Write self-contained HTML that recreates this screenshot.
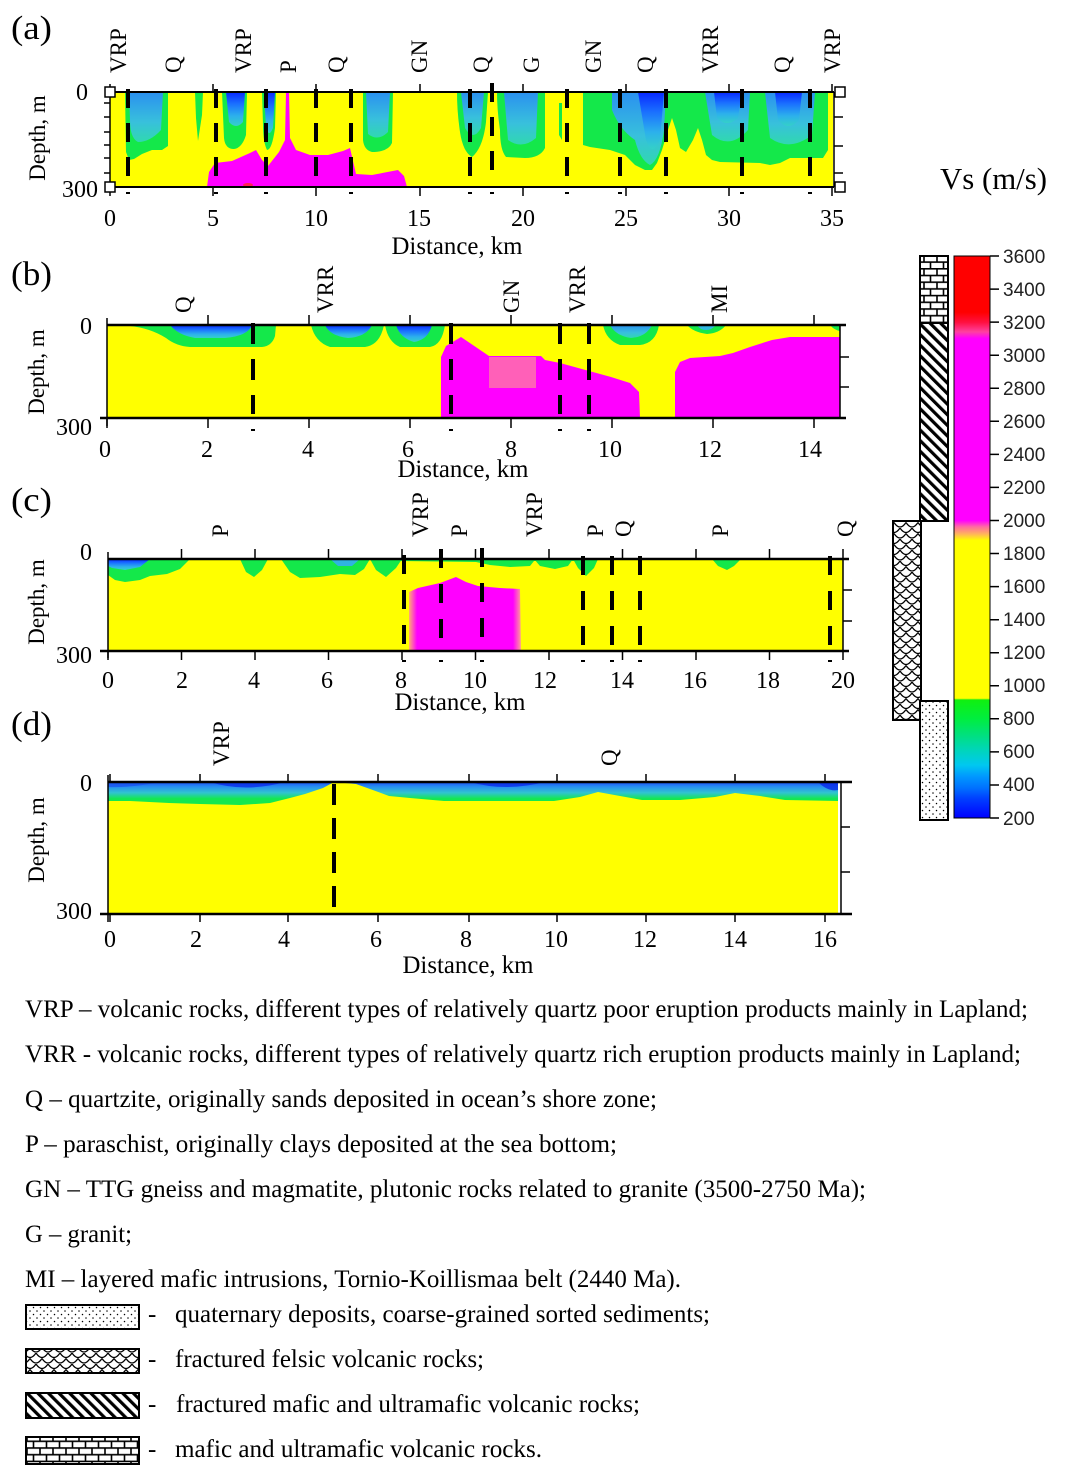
<!DOCTYPE html>
<html><head><meta charset="utf-8"><style>html,body{margin:0;padding:0;background:#fff}svg{display:block}</style></head>
<body>
<svg width="1070" height="1482" viewBox="0 0 1070 1482" xmlns="http://www.w3.org/2000/svg" font-family="'Liberation Serif', serif" fill="#000">
<defs>
<linearGradient id="core" x1="0" y1="0" x2="0" y2="1"><stop offset="0" stop-color="#0828ff"/><stop offset="0.35" stop-color="#1a70ff"/><stop offset="0.7" stop-color="#2cb0ec"/><stop offset="1" stop-color="#34d0c8"/></linearGradient>
<linearGradient id="cyan" x1="0" y1="0" x2="0" y2="1"><stop offset="0" stop-color="#2a90f0"/><stop offset="0.6" stop-color="#38c0dc"/><stop offset="1" stop-color="#30d8b0"/></linearGradient>
<linearGradient id="magH" gradientUnits="userSpaceOnUse" x1="405" y1="0" x2="525" y2="0"><stop offset="0" stop-color="#ffff00"/><stop offset="0.04" stop-color="#ff9a80"/><stop offset="0.1" stop-color="#ff00ff"/><stop offset="0.9" stop-color="#ff00ff"/><stop offset="0.96" stop-color="#ff90a0"/><stop offset="1" stop-color="#ffff00"/></linearGradient>
<linearGradient id="layer" gradientUnits="userSpaceOnUse" x1="0" y1="782" x2="0" y2="806"><stop offset="0" stop-color="#1c50f8"/><stop offset="0.2" stop-color="#2890f0"/><stop offset="0.45" stop-color="#30c4d0"/><stop offset="0.7" stop-color="#14e850"/><stop offset="1" stop-color="#14e850"/></linearGradient>
<linearGradient id="cbar" x1="0" y1="0" x2="0" y2="1">
<stop offset="0" stop-color="#ff0000"/><stop offset="0.1" stop-color="#ff0000"/><stop offset="0.118" stop-color="#ff1040"/><stop offset="0.135" stop-color="#ff40a0"/><stop offset="0.147" stop-color="#ff00ff"/><stop offset="0.4706" stop-color="#ff00ff"/><stop offset="0.482" stop-color="#ff6ca0"/><stop offset="0.494" stop-color="#ffb060"/><stop offset="0.506" stop-color="#ffff00"/><stop offset="0.787" stop-color="#ffff00"/><stop offset="0.79" stop-color="#10f010"/><stop offset="0.824" stop-color="#00ee40"/><stop offset="0.853" stop-color="#00e080"/><stop offset="0.882" stop-color="#00d4c0"/><stop offset="0.906" stop-color="#00c8f0"/><stop offset="0.926" stop-color="#0098ff"/><stop offset="0.947" stop-color="#0070ff"/><stop offset="0.965" stop-color="#0040ff"/><stop offset="1" stop-color="#0000ff"/>
</linearGradient>
<pattern id="brick" patternUnits="userSpaceOnUse" width="26" height="13.4" x="0" y="0">
<rect width="26" height="13.4" fill="#fff"/>
<path d="M0,0.8H26M0,7.5H26M1,0.8V7.5M14,0.8V7.5M7.5,7.5V13.4M20.5,7.5V13.4" stroke="#000" stroke-width="1.6" fill="none"/>
</pattern>
<pattern id="hatch" patternUnits="userSpaceOnUse" width="7.5" height="20" patternTransform="rotate(-45)">
<rect width="7.5" height="20" fill="#fff"/><rect width="3.2" height="20" fill="#000"/>
</pattern>
<pattern id="scale" patternUnits="userSpaceOnUse" width="12" height="11">
<rect width="12" height="11" fill="#fff"/>
<path d="M0,0 Q6,9 12,0 M-6,5.5 Q0,14.5 6,5.5 M6,5.5 Q12,14.5 18,5.5" stroke="#000" stroke-width="1.3" fill="none"/>
</pattern>
<pattern id="dots" patternUnits="userSpaceOnUse" width="7" height="7">
<rect width="7" height="7" fill="#fff"/><circle cx="2" cy="2" r="0.75" fill="#000"/><circle cx="5.5" cy="5.5" r="0.75" fill="#000"/>
</pattern>
</defs>
<rect width="1070" height="1482" fill="#fff"/>

<!-- ================= PANEL A ================= -->
<g>
<rect x="110" y="92" width="723" height="95" fill="#ffff00"/>
<g fill="#14e84a">
<path d="M125,92 L168,92 L168,146 L162,150 L152,150 L142,154 L134,159 L129,160 L126,152 Z"/>
<path d="M195,92 L203,92 L202,115 L198,141 L196,118 Z"/>
<path d="M222,92 L247,92 L246,135 Q242,148 234,149 Q225,149 224,138 Z"/>
<path d="M262,92 L276,92 L275,128 Q272,150 267,150 Q263,142 263,125 Z"/>
<path d="M363,92 L393,92 L392,143 Q388,152 372,152 Q364,150 363,140 Z"/>
<path d="M457,92 L488,92 L486,122 Q483,148 472,157 Q463,152 460,132 Q457,112 457,92 Z"/>
<path d="M497,92 L545,92 L545,148 Q540,158 525,158 L506,157 Q500,150 500,130 Q497,110 497,92 Z"/>
<path d="M559,103 L562,103 L562,140 L559,135 Z"/>
<path d="M583,92 L828,92 L828,150 L823,158 L790,158 L780,163 L770,165 L760,163 L720,162 L712,160 L706,155 L702,140 L698,128 L693,140 L686,152 L680,148 L676,130 L672,118 L668,130 L662,150 L657,163 L652,170 L645,170 L635,165 L625,155 L610,150 L590,147 L583,145 Z"/>
</g>
<path d="M129,92 L163,92 L161,130 Q150,142 138,142 Q130,138 130,120 Z" fill="url(#cyan)"/>
<path d="M226,92 L245,92 L243,122 Q236,130 229,122 Z" fill="url(#core)"/>
<path d="M264,92 L275,92 L273,128 Q269,138 266,128 Z" fill="url(#core)"/>
<path d="M366,92 L390,92 L388,132 Q378,142 368,134 Z" fill="url(#cyan)"/>
<path d="M461,92 L484,92 L481,128 Q473,142 465,128 Z" fill="url(#cyan)"/>
<path d="M504,92 L538,92 L536,138 Q522,150 508,140 Z" fill="url(#cyan)"/>
<path d="M612,92 L666,92 L664,130 Q660,160 650,165 Q640,160 635,140 Q620,130 612,110 Z" fill="url(#cyan)"/>
<path d="M638,92 L664,92 L660,140 Q652,158 646,140 Z" fill="url(#core)"/>
<path d="M705,92 L750,92 L748,130 Q730,150 712,135 Z" fill="url(#cyan)"/>
<path d="M714,92 L742,92 L738,118 Q727,128 717,118 Z" fill="url(#core)"/>
<path d="M765,92 L815,92 L812,135 Q790,152 770,138 Z" fill="url(#cyan)"/>
<path d="M775,92 L802,92 L799,120 Q788,132 778,120 Z" fill="url(#core)"/>
<path d="M207,187 L209,172 L215,163 L232,161 L250,153 L256,150 L262,160 L268,166 L279,152 L285,140 L286,92 L289,92 L290,138 L296,150 L310,155 L328,155 L343,151 L350,148 L356,174 L372,175 L398,170 L404,176 L407,187 Z" fill="#ff00ff"/>
<ellipse cx="248" cy="185" rx="5" ry="2" fill="#ff2050"/>
<g stroke="#000" stroke-width="4" stroke-dasharray="19 15">
<line x1="128" y1="89" x2="128" y2="178"/><line x1="216" y1="89" x2="216" y2="178"/><line x1="266" y1="89" x2="266" y2="178"/><line x1="316" y1="89" x2="316" y2="178"/><line x1="351" y1="89" x2="351" y2="178"/><line x1="470" y1="89" x2="470" y2="178"/><line x1="492" y1="83" x2="492" y2="172"/><line x1="567" y1="89" x2="567" y2="178"/><line x1="620" y1="89" x2="620" y2="178"/><line x1="666" y1="89" x2="666" y2="178"/><line x1="742" y1="89" x2="742" y2="178"/><line x1="810" y1="89" x2="810" y2="178"/>
</g>
<g stroke="#000" fill="none">
<path d="M110,92H834M110,187H834" stroke-width="2"/>
<path d="M110,92V187M834,92V187" stroke-width="1.5"/>
<path d="M110,84V92M213,84V92M316,84V92M420,84V92M523,84V92M626,84V92M729,84V92M832,84V92" stroke-width="1.5"/>
<path d="M110,187V196M213,187V196M316,187V196M420,187V196M523,187V196M626,187V196M729,187V196M832,187V196" stroke-width="1.5"/>
<path d="M104,103H110M104,117H110M104,132H110M104,145H110M104,158H110M104,173H110" stroke-width="1.5"/>
<path d="M834,117H843M834,146H843M834,173H843" stroke-width="1.5"/>
<path d="M126,193H130M214,193H218M264,193H268M349,193H353M468,193H472M490,193H494M565,193H569M618,193H622M664,193H668M740,193H744M808,193H812" stroke-width="2"/>
</g>
<g fill="#fff" stroke="#000" stroke-width="1.5">
<rect x="105" y="87" width="10" height="10"/><rect x="105" y="182" width="10" height="10"/><rect x="835" y="87" width="10" height="10"/><rect x="835" y="182" width="10" height="10"/>
</g>
<text x="11" y="39" font-size="34" textLength="41" lengthAdjust="spacingAndGlyphs">(a)</text>
<text x="88" y="100" font-size="24" text-anchor="end">0</text>
<text x="98" y="197" font-size="24" text-anchor="end">300</text>
<text transform="translate(45,138) rotate(-90)" font-size="23" text-anchor="middle">Depth, m</text>
<g font-size="24" text-anchor="middle">
<text x="110" y="226">0</text><text x="213" y="226">5</text><text x="316" y="226">10</text><text x="419" y="226">15</text><text x="523" y="226">20</text><text x="626" y="226">25</text><text x="729" y="226">30</text><text x="832" y="226">35</text>
</g>
<text x="457" y="254" font-size="25" text-anchor="middle" textLength="131" lengthAdjust="spacingAndGlyphs">Distance, km</text>
<g font-size="23">
<text transform="translate(126,73) rotate(-90)">VRP</text>
<text transform="translate(181,73) rotate(-90)">Q</text>
<text transform="translate(251,73) rotate(-90)">VRP</text>
<text transform="translate(296,73) rotate(-90)">P</text>
<text transform="translate(344,73) rotate(-90)">Q</text>
<text transform="translate(427,73) rotate(-90)">GN</text>
<text transform="translate(489,73) rotate(-90)">Q</text>
<text transform="translate(539,73) rotate(-90)">G</text>
<text transform="translate(601,73) rotate(-90)">GN</text>
<text transform="translate(653,73) rotate(-90)">Q</text>
<text transform="translate(718,73) rotate(-90)">VRR</text>
<text transform="translate(790,73) rotate(-90)">Q</text>
<text transform="translate(840,73) rotate(-90)">VRP</text>
</g>
</g>

<!-- ================= PANEL B ================= -->
<g>
<rect x="107" y="325" width="733" height="93" fill="#ffff00"/>
<g fill="#14e84a">
<path d="M130,325 L276,325 L275,336 Q272,346 262,347 L190,347 Q176,346 166,338 Q150,328 130,326 Z"/>
<path d="M311,325 L384,325 Q380,345 365,347 L330,347 Q315,342 311,325 Z"/>
<path d="M385,325 L445,325 Q442,345 430,347 L400,347 Q388,342 385,325 Z"/>
<path d="M603,325 L659,325 Q656,343 640,345 L620,345 Q606,340 603,325 Z"/>
<path d="M687,325 L726,325 Q720,333 707,334 Q693,332 687,325 Z"/>
<path d="M830,325 L840,325 L840,331 Q834,330 830,325 Z"/>
</g>
<path d="M170,325 L252,325 Q248,336 225,338 L195,338 Q178,335 170,325 Z" fill="url(#core)"/>
<path d="M325,325 L372,325 Q366,337 348,338 Q330,336 325,325 Z" fill="url(#core)"/>
<path d="M396,325 L432,325 Q428,340 414,342 Q400,338 396,325 Z" fill="url(#core)"/>
<path d="M610,325 L652,325 Q646,337 631,338 Q616,336 610,325 Z" fill="url(#cyan)"/>
<path d="M697,325 L716,325 Q712,330 706,330 Q700,330 697,325 Z" fill="#30b8e0"/>
<path d="M441,418 L441,357 L446,346 L461,337 L489,356 L541,356 L545,360 L560,363 L611,377 L630,383 L639,392 L640,418 Z" fill="#ff00ff"/>
<rect x="489" y="357" width="47" height="31" fill="#ff60b8"/>
<path d="M675,418 L675,372 L680,362 L690,358 L720,356 L733,353 L750,347 L772,340 L790,337 L840,337 L840,418 Z" fill="#ff00ff"/>
<g stroke="#000" stroke-width="4" stroke-dasharray="21 15">
<line x1="253" y1="323" x2="253" y2="414"/><line x1="451" y1="323" x2="451" y2="414"/><line x1="560" y1="323" x2="560" y2="414"/><line x1="589" y1="323" x2="589" y2="414"/>
</g>
<g stroke="#000" fill="none">
<path d="M107,325H846M100,418H846" stroke-width="2.5"/>
<path d="M107,318V426M840,325V418" stroke-width="1.5"/>
<path d="M208,315V325M309,315V325M410,315V325M511,315V325M612,315V325M713,315V325M814,315V325" stroke-width="1.5"/>
<path d="M107,418V428M208,418V428M309,418V428M410,418V428M511,418V428M612,418V428M713,418V428M814,418V428" stroke-width="1.5"/>
<path d="M840,357H849M840,387H849" stroke-width="1.5"/>
<path d="M251,430H255M449,430H453M558,430H562M587,430H591" stroke-width="2"/>
</g>
<text x="11" y="285" font-size="34" textLength="41" lengthAdjust="spacingAndGlyphs">(b)</text>
<text x="92" y="334" font-size="24" text-anchor="end">0</text>
<text x="92" y="435" font-size="24" text-anchor="end">300</text>
<text transform="translate(44,372) rotate(-90)" font-size="23" text-anchor="middle">Depth, m</text>
<g font-size="24" text-anchor="middle">
<text x="105" y="457">0</text><text x="207" y="457">2</text><text x="308" y="457">4</text><text x="408" y="457">6</text><text x="511" y="457">8</text><text x="610" y="457">10</text><text x="710" y="457">12</text><text x="810" y="457">14</text>
</g>
<text x="463" y="477" font-size="25" text-anchor="middle" textLength="131" lengthAdjust="spacingAndGlyphs">Distance, km</text>
<g font-size="23">
<text transform="translate(191,313) rotate(-90)">Q</text>
<text transform="translate(333,313) rotate(-90)">VRR</text>
<text transform="translate(519,313) rotate(-90)">GN</text>
<text transform="translate(585,313) rotate(-90)">VRR</text>
<text transform="translate(727,313) rotate(-90)">MI</text>
</g>
</g>

<!-- ================= PANEL C ================= -->
<g>
<rect x="108" y="559" width="735" height="92" fill="#ffff00"/>
<g fill="#14e84a">
<path d="M108,559 L190,559 L180,569 L167,574 L150,576 L140,580 L125,582 L115,580 L108,575 Z"/>
<path d="M240,559 L268,559 L262,570 L254,577 L246,572 Z"/>
<path d="M281,559 L370,559 L364,569 L355,575 L340,574 L320,577 L300,578 L290,572 Z"/>
<path d="M370,559 L402,559 L396,568 L386,577 L376,570 Z"/>
<path d="M400,559 L575,559 L575,561 L534,561 L530,566 L510,567 L490,565 L476,562 L400,561 Z"/>
<path d="M534,559 L573,559 L568,566 L555,569 L540,566 Z"/>
<path d="M573,559 L598,559 L594,568 L586,576 L578,568 Z"/>
<path d="M712,559 L741,559 L734,566 L727,570 L718,566 Z"/>
</g>
<path d="M108,559 L150,559 L140,567 L125,570 L112,568 L108,566 Z" fill="url(#core)"/>
<path d="M330,559 L360,559 L352,566 L338,566 Z" fill="#30b4e0"/>
<path d="M409,651 L409,592 L418,588 L440,583 L456,577 L466,582 L478,586 L500,588 L520,589 L521,651 Z" fill="url(#magH)"/>
<g stroke="#000" stroke-width="4" stroke-dasharray="19 16">
<line x1="404" y1="555" x2="404" y2="645"/><line x1="441" y1="549" x2="441" y2="640"/><line x1="482" y1="548" x2="482" y2="638"/><line x1="583" y1="556" x2="583" y2="646"/><line x1="612" y1="556" x2="612" y2="646"/><line x1="640" y1="556" x2="640" y2="646"/><line x1="830" y1="556" x2="830" y2="646"/>
</g>
<g stroke="#000" fill="none">
<path d="M108,559H849M100,651H849" stroke-width="2.5"/>
<path d="M108,552V658M843,559V651" stroke-width="1.5"/>
<path d="M181.5,549V559M255,549V559M328.5,549V559M402,549V559M475.5,549V559M549,549V559M622.5,549V559M696,549V559M769.5,549V559M843,549V559" stroke-width="1.5"/>
<path d="M108,651V660M181.5,651V660M255,651V660M328.5,651V660M402,651V660M475.5,651V660M549,651V660M622.5,651V660M696,651V660M769.5,651V660M843,651V660" stroke-width="1.5"/>
<path d="M843,590H852M843,621H852" stroke-width="1.5"/>
<path d="M402,661H406M439,661H443M480,661H484M581,661H585M610,661H614M638,661H642M828,661H832" stroke-width="2"/>
</g>
<text x="11" y="511" font-size="34" textLength="41" lengthAdjust="spacingAndGlyphs">(c)</text>
<text x="92" y="560" font-size="24" text-anchor="end">0</text>
<text x="92" y="663" font-size="24" text-anchor="end">300</text>
<text transform="translate(44,602) rotate(-90)" font-size="23" text-anchor="middle">Depth, m</text>
<g font-size="24" text-anchor="middle">
<text x="108" y="688">0</text><text x="182" y="688">2</text><text x="254" y="688">4</text><text x="327" y="688">6</text><text x="401" y="688">8</text><text x="475" y="688">10</text><text x="545" y="688">12</text><text x="622" y="688">14</text><text x="695" y="688">16</text><text x="768" y="688">18</text><text x="843" y="688">20</text>
</g>
<text x="460" y="710" font-size="25" text-anchor="middle" textLength="131" lengthAdjust="spacingAndGlyphs">Distance, km</text>
<g font-size="23">
<text transform="translate(228,537) rotate(-90)">P</text>
<text transform="translate(428,537) rotate(-90)">VRP</text>
<text transform="translate(467,537) rotate(-90)">P</text>
<text transform="translate(542,537) rotate(-90)">VRP</text>
<text transform="translate(603,537) rotate(-90)">P</text>
<text transform="translate(631,537) rotate(-90)">Q</text>
<text transform="translate(728,537) rotate(-90)">P</text>
<text transform="translate(853,537) rotate(-90)">Q</text>
</g>
</g>

<!-- ================= PANEL D ================= -->
<g>
<rect x="108" y="782" width="730" height="132" fill="#ffff00"/>
<path d="M108,782 L838,782 L838,801 L785,800 L760,796 L735,793 L715,797 L680,800 L642,800 L620,796 L598,792 L580,797 L554,801 L444,801 L410,798 L389,796 L370,789 L356,784 L334,782 L323,788 L305,794 L290,798 L270,803 L240,805 L200,804 L169,803 L130,801 L108,801 Z" fill="url(#layer)"/>
<path d="M210,782 Q245,793 285,782 Z" fill="#0a28e8" opacity="0.75"/>
<path d="M470,782 Q505,792 545,782 Z" fill="#0a28e8" opacity="0.75"/>
<path d="M818,782 Q828,792 838,790 L838,782 Z" fill="#0a28e8" opacity="0.8"/>
<path d="M108,782 L108,787 Q130,788 160,782 Z" fill="#1850f0" opacity="0.7"/>
<line x1="334" y1="784" x2="334" y2="910" stroke="#000" stroke-width="4" stroke-dasharray="21 13"/>
<g stroke="#000" fill="none">
<path d="M108,782H852M100,914H852" stroke-width="2.5"/>
<path d="M108,775V922M841,782V914" stroke-width="1.5"/>
<path d="M110,774V782M200,774V782M288,774V782M378,774V782M469,774V782M557,774V782M646,774V782M735,774V782M825,774V782" stroke-width="1.5"/>
<path d="M110,914V922M200,914V922M288,914V922M378,914V922M469,914V922M557,914V922M646,914V922M735,914V922M825,914V922" stroke-width="1.5"/>
<path d="M841,827H850M841,872H850" stroke-width="1.5"/>
</g>
<text x="11" y="735" font-size="34" textLength="41" lengthAdjust="spacingAndGlyphs">(d)</text>
<text x="92" y="791" font-size="24" text-anchor="end">0</text>
<text x="92" y="919" font-size="24" text-anchor="end">300</text>
<text transform="translate(44,840) rotate(-90)" font-size="23" text-anchor="middle">Depth, m</text>
<g font-size="24" text-anchor="middle">
<text x="110" y="947">0</text><text x="196" y="947">2</text><text x="284" y="947">4</text><text x="376" y="947">6</text><text x="466" y="947">8</text><text x="556" y="947">10</text><text x="645" y="947">12</text><text x="735" y="947">14</text><text x="825" y="947">16</text>
</g>
<text x="468" y="973" font-size="25" text-anchor="middle" textLength="131" lengthAdjust="spacingAndGlyphs">Distance, km</text>
<g font-size="23">
<text transform="translate(229,766) rotate(-90)">VRP</text>
<text transform="translate(617,766) rotate(-90)">Q</text>
</g>
</g>

<!-- ================= COLORBAR ================= -->
<text x="940" y="189" font-size="31" textLength="107" lengthAdjust="spacingAndGlyphs">Vs (m/s)</text>
<rect x="920" y="256" width="28" height="67" fill="url(#brick)" stroke="#000" stroke-width="2"/>
<rect x="920" y="323" width="28" height="198" fill="url(#hatch)" stroke="#000" stroke-width="2"/>
<rect x="893" y="521" width="28" height="199" fill="url(#scale)" stroke="#000" stroke-width="2"/>
<rect x="920" y="701" width="28" height="119" fill="url(#dots)" stroke="#000" stroke-width="2"/>
<rect x="954" y="256" width="36" height="562" fill="url(#cbar)" stroke="#000" stroke-width="1"/>
<g stroke="#000" stroke-width="1.5">
<path d="M990,256H999M990,289.1H999M990,322.1H999M990,355.2H999M990,388.2H999M990,421.3H999M990,454.4H999M990,487.4H999M990,520.5H999M990,553.5H999M990,586.6H999M990,619.7H999M990,652.7H999M990,685.8H999M990,718.8H999M990,751.9H999M990,785H999M990,818H999"/>
</g>
<g font-family="'Liberation Sans', sans-serif" font-size="19" fill="#222">
<text x="1003" y="263">3600</text><text x="1003" y="296">3400</text><text x="1003" y="329">3200</text><text x="1003" y="362">3000</text><text x="1003" y="395">2800</text><text x="1003" y="428">2600</text><text x="1003" y="461">2400</text><text x="1003" y="494">2200</text><text x="1003" y="527">2000</text><text x="1003" y="560">1800</text><text x="1003" y="593">1600</text><text x="1003" y="626">1400</text><text x="1003" y="659">1200</text><text x="1003" y="692">1000</text><text x="1003" y="725">800</text><text x="1003" y="758">600</text><text x="1003" y="791">400</text><text x="1003" y="825">200</text>
</g>

<!-- ================= LEGEND ================= -->
<g font-size="25">
<text x="25" y="1017" textLength="1003" lengthAdjust="spacingAndGlyphs">VRP – volcanic rocks, different types of relatively quartz poor eruption products mainly in Lapland;</text>
<text x="25" y="1062" textLength="996" lengthAdjust="spacingAndGlyphs">VRR - volcanic rocks, different types of relatively quartz rich eruption products mainly in Lapland;</text>
<text x="25" y="1107" textLength="632" lengthAdjust="spacingAndGlyphs">Q – quartzite, originally sands deposited in ocean’s shore zone;</text>
<text x="25" y="1152" textLength="592" lengthAdjust="spacingAndGlyphs">P – paraschist, originally clays deposited at the sea bottom;</text>
<text x="25" y="1197" textLength="841" lengthAdjust="spacingAndGlyphs">GN – TTG gneiss and magmatite, plutonic rocks related to granite (3500-2750 Ma);</text>
<text x="25" y="1242" textLength="107" lengthAdjust="spacingAndGlyphs">G – granit;</text>
<text x="25" y="1287" textLength="656" lengthAdjust="spacingAndGlyphs">MI – layered mafic intrusions, Tornio-Koillismaa belt (2440 Ma).</text>
<text x="148" y="1322">-</text><text x="175" y="1322" textLength="535" lengthAdjust="spacingAndGlyphs">quaternary deposits, coarse-grained sorted sediments;</text>
<text x="148" y="1367">-</text><text x="175" y="1367" textLength="309" lengthAdjust="spacingAndGlyphs">fractured felsic volcanic rocks;</text>
<text x="148" y="1412">-</text><text x="176" y="1412" textLength="464" lengthAdjust="spacingAndGlyphs">fractured mafic and ultramafic volcanic rocks;</text>
<text x="148" y="1457">-</text><text x="175" y="1457" textLength="367" lengthAdjust="spacingAndGlyphs">mafic and ultramafic volcanic rocks.</text>
</g>
<rect x="26" y="1305" width="113" height="24" fill="url(#dots)" stroke="#000" stroke-width="2"/>
<rect x="26" y="1349" width="113" height="24" fill="url(#scale)" stroke="#000" stroke-width="2"/>
<rect x="26" y="1393" width="113" height="25" fill="url(#hatch)" stroke="#000" stroke-width="2"/>
<rect x="26" y="1437" width="113" height="27" fill="url(#brick)" stroke="#000" stroke-width="2"/>
</svg>
</body></html>
